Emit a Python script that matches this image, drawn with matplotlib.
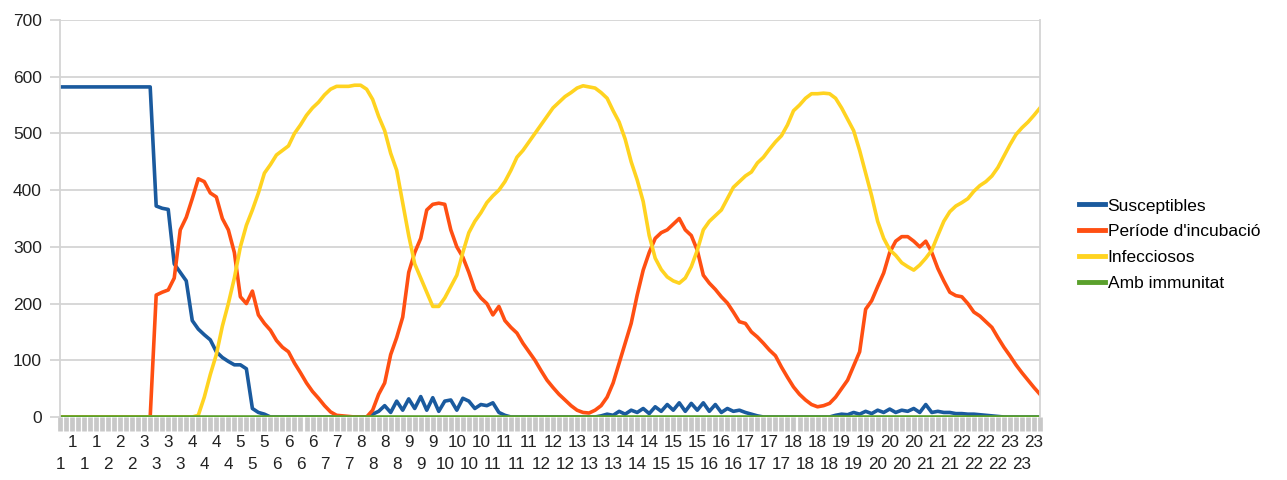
import matplotlib
matplotlib.use("Agg")
import matplotlib.pyplot as plt

plt.rcParams['font.family'] = ['Liberation Sans', 'DejaVu Sans']

# x category tick labels (shown on every other category, two staggered rows)
tick_labels = [1, 1, 1, 1, 2, 2, 2, 3, 3, 3, 3, 4, 4, 4, 4, 5, 5, 5, 6, 6, 6, 6,
               7, 7, 7, 8, 8, 8, 8, 9, 9, 9, 10, 10, 10, 10, 11, 11, 11, 11,
               12, 12, 12, 13, 13, 13, 13, 14, 14, 14, 15, 15, 15, 15, 16, 16, 16,
               17, 17, 17, 17, 18, 18, 18, 18, 19, 19, 19, 20, 20, 20, 20,
               21, 21, 21, 22, 22, 22, 22, 23, 23, 23]

susceptibles = [
    582, 582, 582, 582, 582, 582, 582, 582, 582, 582, 582, 582, 582, 582, 582, 582,
    372, 368, 366, 270, 255, 240, 170, 155, 145, 136, 115, 105, 98, 92,
    92, 85, 15, 8, 5, 0, 0, 0, 0, 0, 0, 0, 0, 0, 0, 0, 0, 0, 0, 0,
    0, 0, 5, 10, 20, 8, 28, 12, 32, 15, 36, 12, 34, 10, 28, 30, 12, 33, 28, 15,
    22, 20, 25, 8, 3, 0, 0, 0, 0, 0, 0, 0, 0, 0, 0, 0, 0, 0, 0, 0,
    2, 5, 3, 10, 5, 12, 8, 15, 6, 18, 10, 22, 12, 25, 10, 24, 12, 25, 10, 22,
    8, 15, 10, 12, 8, 5, 2, 0, 0, 0, 0, 0, 0, 0, 0, 0, 0, 0, 0, 3,
    5, 4, 8, 5, 10, 6, 12, 8, 14, 8, 12, 10, 15, 8, 22, 8, 10, 8, 8, 6,
    6, 5, 5, 4, 3, 2, 1, 0, 0, 0, 0, 0, 0, 0]

incubacio = [
    0, 0, 0, 0, 0, 0, 0, 0, 0, 0, 0, 0, 0, 0, 0, 0,
    215, 220, 224, 245, 330, 352, 385, 420, 415, 395, 388, 350, 330, 290,
    212, 200, 222, 180, 165, 153, 135, 123, 115, 95, 78, 60, 45, 33, 20, 9, 3, 2, 1, 0,
    0, 0, 12, 40, 60, 110, 140, 176, 255, 290, 315, 365, 375, 377, 375, 330, 300, 282, 255, 224,
    210, 200, 180, 195, 170, 158, 148, 130, 115, 100, 82, 65, 52, 40, 30, 20, 12, 8, 7, 12,
    20, 35, 60, 95, 130, 165, 215, 259, 290, 315, 325, 330, 340, 350, 330, 320, 294, 250, 236, 225,
    212, 201, 185, 168, 165, 150, 141, 130, 118, 108, 88, 70, 53, 40, 30, 22, 18, 20, 24, 35,
    50, 65, 90, 115, 190, 205, 230, 254, 290, 310, 318, 318, 310, 300, 310, 290, 262, 240, 220, 214,
    212, 200, 185, 178, 168, 158, 140, 123, 108, 92, 78, 65, 52, 40]

infecciosos = [
    0, 0, 0, 0, 0, 0, 0, 0, 0, 0, 0, 0, 0, 0, 0, 0,
    0, 0, 0, 0, 0, 0, 0, 3, 35, 75, 110, 160, 200, 245,
    300, 338, 365, 395, 430, 445, 462, 470, 478, 500, 515, 532, 545, 555, 568, 578, 583, 583, 583, 585,
    585, 578, 560, 530, 505, 465, 435, 377, 320, 270, 245, 220, 195, 195, 210, 230, 250, 290, 325, 345,
    360, 378, 390, 400, 415, 435, 458, 470, 485, 500, 515, 530, 545, 555, 565, 572, 580, 584, 582, 580,
    572, 562, 540, 520, 490, 450, 418, 380, 320, 280, 260, 247, 240, 236, 245, 265, 294, 330, 345, 355,
    365, 385, 405, 415, 425, 432, 448, 458, 472, 485, 496, 515, 540, 550, 562, 570, 570, 571, 570, 562,
    545, 525, 505, 470, 430, 390, 345, 315, 295, 285, 272, 265, 259, 268, 280, 294, 320, 345, 362, 372,
    378, 385, 398, 408, 415, 425, 440, 460, 480, 498, 510, 520, 532, 545]

immunitat = [
    0, 0, 0, 0, 0, 0, 0, 0, 0, 0, 0, 0, 0, 0, 0, 0,
    0, 0, 0, 0, 0, 0, 0, 0, 0, 0, 0, 0, 0, 0,
    0, 0, 0, 0, 0, 0, 0, 0, 0, 0, 0, 0, 0, 0, 0, 0, 0, 0, 0, 0,
    0, 0, 0, 0, 0, 0, 0, 0, 0, 0, 0, 0, 0, 0, 0, 0, 0, 0, 0, 0,
    0, 0, 0, 0, 0, 0, 0, 0, 0, 0, 0, 0, 0, 0, 0, 0, 0, 0, 0, 0,
    0, 0, 0, 0, 0, 0, 0, 0, 0, 0, 0, 0, 0, 0, 0, 0, 0, 0, 0, 0,
    0, 0, 0, 0, 0, 0, 0, 0, 0, 0, 0, 0, 0, 0, 0, 0, 0, 0, 0, 0,
    0, 0, 0, 0, 0, 0, 0, 0, 0, 0, 0, 0, 0, 0, 0, 0, 0, 0, 0, 0,
    0, 0, 0, 0, 0, 0, 0, 0, 0, 0, 0, 0, 0, 0]

series_names = ["Susceptibles", "Període d'incubació", "Infecciosos", "Amb immunitat"]
colors = ["#1a5a9e", "#ff4f12", "#ffd320", "#5aa02c"]

W, H = 1287, 480
fig = plt.figure(figsize=(W / 100, H / 100), dpi=100)
ax = fig.add_axes([60 / W, (H - 417) / H, (1040 - 60) / W, 397 / H])

x = list(range(len(susceptibles)))
for data, name, col in zip([susceptibles, incubacio, infecciosos, immunitat], series_names, colors):
    ax.plot(x, data, color=col, lw=2.6, label=name, solid_joinstyle='round')

ax.set_xlim(0, len(x) - 1)
ax.set_ylim(0, 700)
ax.set_yticks(range(0, 701, 100))
ax.yaxis.grid(True, color='#d4d4d4', lw=1.3)
ax.set_axisbelow(True)
for s in ['top', 'bottom']:
    ax.spines[s].set_visible(False)
for s in ['left', 'right']:
    ax.spines[s].set_color('#d4d4d4')
    ax.spines[s].set_linewidth(1.3)

ax.tick_params(axis='y', length=7, width=1.3, color='#d4d4d4', pad=6,
               labelsize=12.5, labelcolor='#222222')

# staggered category labels: odd entries on the upper row, even entries on the lower row
top_pos = [2 * k for k in range(len(tick_labels)) if k % 2 == 1]
top_lab = [str(v) for k, v in enumerate(tick_labels) if k % 2 == 1]
bot_pos = [2 * k for k in range(len(tick_labels)) if k % 2 == 0]
bot_lab = [str(v) for k, v in enumerate(tick_labels) if k % 2 == 0]

ax.set_xticks(top_pos)
ax.set_xticklabels(top_lab)
ax.set_xticks(x, minor=True)
ax.tick_params(axis='x', which='both', length=10, width=3.4, color='#c8c8c8',
               pad=3, labelsize=12.3, labelcolor='#222222')

sec = ax.secondary_xaxis('bottom')
sec.set_xticks(bot_pos)
sec.set_xticklabels(bot_lab)
sec.tick_params(axis='x', length=0, pad=29, labelsize=12.3, labelcolor='#222222')
sec.spines['bottom'].set_visible(False)

fig.legend(loc='center left', bbox_to_anchor=(1072 / W, 0.49), frameon=False,
           fontsize=12.5, handlelength=1.5, handletextpad=0.15, labelspacing=0.62,
           borderaxespad=0)
for h in fig.legends[0].get_lines():
    h.set_linewidth(3.5)

fig.savefig("out.png", dpi=100)
